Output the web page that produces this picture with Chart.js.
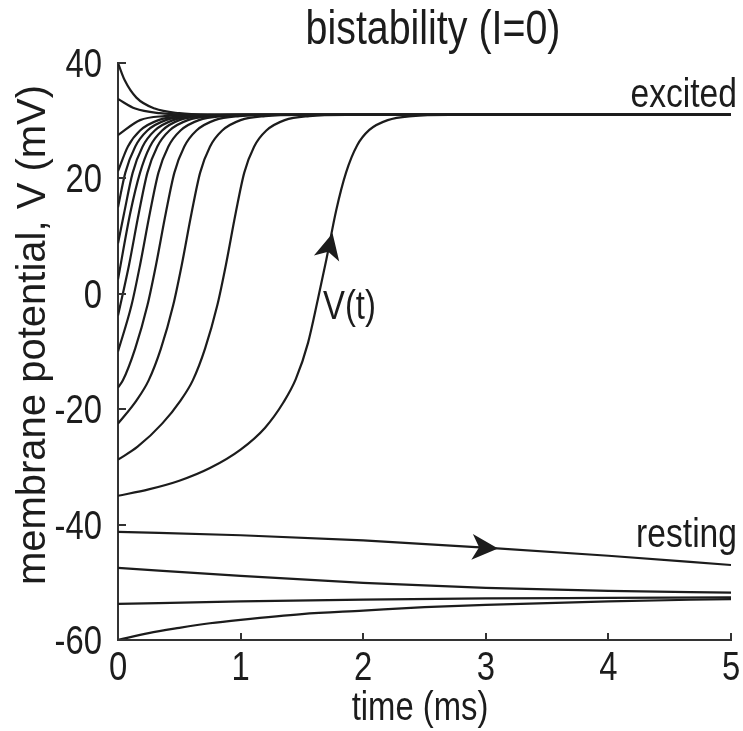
<!DOCTYPE html>
<html>
<head>
<meta charset="utf-8">
<script src="https://cdn.jsdelivr.net/npm/chart.js@4.4.1/dist/chart.umd.min.js"></script>
<style>
  html, body { margin: 0; padding: 0; background: #fff; }
</style>
</head>
<body>
<canvas id="myChart" width="743" height="731"></canvas>
<script>
// trajectories V(t), [time ms, V mV]
const v40  = [[0,40],[0.055,37],[0.15,34],[0.3,32.1],[0.5,31.3],[0.75,31.05],[1.2,31],[5,31]];
const v34  = [[0,33.75],[0.14,32.1],[0.34,31.3],[0.59,31.05],[1.04,31],[5,31]];
const v28  = [[0,27.5],[0.18,30.1],[0.38,30.8],[0.68,31],[5,31]];
const v21  = [[0,21.25],[0.08,25.5],[0.18,28.3],[0.33,30.1],[0.53,30.8],[0.83,31],[5,31]];
const v15  = [[0,15],[0.06,21],[0.14,25.5],[0.24,28.3],[0.39,30.1],[0.59,30.8],[0.89,31],[5,31]];
const v9   = [[0,8.75],[0.05,14],[0.12,21],[0.2,25.5],[0.3,28.3],[0.45,30.1],[0.65,30.8],[0.95,31],[5,31]];
const v3   = [[0,2.5],[0.1,14],[0.18,21],[0.26,25.5],[0.36,28.3],[0.5,30.1],[0.7,30.8],[1.0,31],[5,31]];
const vm4  = [[0,-3.75],[0.09,5],[0.17,14],[0.24,21],[0.32,25.5],[0.42,28.3],[0.57,30.1],[0.77,30.8],[1.07,31],[5,31]];
const vm10 = [[0,-10],[0.11,-2],[0.18,5],[0.26,14],[0.33,21],[0.41,25.5],[0.51,28.3],[0.66,30.1],[0.86,30.8],[1.16,31],[5,31]];
const vm16 = [[0,-16.25],[0.04,-15],[0.14,-9.5],[0.24,-2],[0.31,5],[0.39,14],[0.46,21],[0.54,25.5],[0.64,28.3],[0.79,30.1],[0.99,30.8],[1.29,31],[5,31]];
const vm23 = [[0,-22.5],[0.15,-18.5],[0.25,-15],[0.35,-9.5],[0.45,-2],[0.52,5],[0.6,14],[0.67,21],[0.75,25.5],[0.85,28.3],[1.0,30.1],[1.2,30.8],[1.5,31],[5,31]];
const vm29 = [[0,-28.75],[0.16,-26.5],[0.36,-22.5],[0.51,-18.5],[0.61,-15],[0.71,-9.5],[0.81,-2],[0.88,5],[0.96,14],[1.03,21],[1.11,25.5],[1.21,28.3],[1.36,30.1],[1.56,30.8],[1.86,31],[5,31]];
const vm35 = [[0,-35],[0.25,-33.9],[0.5,-32.4],[0.75,-30.2],[1.0,-27],[1.2,-23.2],[1.35,-18.8],[1.45,-14.8],[1.55,-8.5],[1.63,-1],[1.7,6],[1.78,14.5],[1.86,21],[1.95,25.7],[2.05,28.4],[2.2,30.1],[2.4,30.8],[2.7,31],[5,31]];
const vm41 = [[0,-41.25],[1,-41.85],[2,-42.75],[3,-44],[4,-45.4],[5,-47]];
const vm48 = [[0,-47.5],[1,-48.9],[2,-50.1],[3,-50.95],[4,-51.5],[5,-51.8]];
const vm54 = [[0,-53.75],[1,-53.3],[2,-53],[3,-52.8],[4,-52.7],[5,-52.6]];
const vm60 = [[0,-60],[0.25,-58.8],[0.5,-57.9],[0.75,-57.1],[1,-56.5],[1.5,-55.5],[2,-54.9],[2.5,-54.3],[3,-53.9],[4,-53.3],[5,-52.9]];

const trajectories = [v40, v34, v28, v21, v15, v9, v3, vm4, vm10, vm16, vm23, vm29, vm35, vm41, vm48, vm54, vm60];

const xTicks = [0, 1, 2, 3, 4, 5];
const yTicks = [-60, -40, -20, 0, 20, 40];

// arrowheads: [tip t, tip V, back t, back V]
const arrowUp = [1.75, 10.5, 1.7, 6];
const arrowRight = [3.1, -44.13, 2.6, -43.5];

const sans = '"Liberation Sans", Arial, Helvetica, sans-serif';
const squeeze = 0.82;   // the figure's lettering is narrow
const inkColor = '#1c1c1c';
const axisColor = '#333';

// narrow horizontal text
const putText = (ctx, str, px, py, size, align) => {
  ctx.save();
  ctx.translate(px, py);
  ctx.scale(squeeze, 1);
  ctx.font = size + 'px ' + sans;
  ctx.textAlign = align;
  ctx.textBaseline = 'alphabetic';
  ctx.fillText(str, 0, 0);
  ctx.restore();
};

const extras = {
  id: 'extras',
  afterDraw(chart) {
    const {ctx, chartArea} = chart;
    const x = chart.scales.x, y = chart.scales.y;
    ctx.save();

    // ticks pointing inward
    ctx.strokeStyle = axisColor;
    ctx.lineWidth = 2;
    x.ticks.forEach(t => {
      const px = Math.round(x.getPixelForValue(t.value));
      ctx.beginPath();
      ctx.moveTo(px, chartArea.bottom);
      ctx.lineTo(px, chartArea.bottom - 7);
      ctx.stroke();
    });
    y.ticks.forEach(t => {
      const py = Math.round(y.getPixelForValue(t.value));
      ctx.beginPath();
      ctx.moveTo(chartArea.left, py);
      ctx.lineTo(chartArea.left + 8, py);
      ctx.stroke();
    });

    // tick labels
    ctx.fillStyle = inkColor;
    x.ticks.forEach(t => {
      putText(ctx, String(t.value), x.getPixelForValue(t.value), chartArea.bottom + 40, 40, 'center');
    });
    y.ticks.forEach(t => {
      putText(ctx, String(t.value), chartArea.left - 16, y.getPixelForValue(t.value) + 14, 40, 'right');
    });

    // arrowheads
    const drawArrow = (a) => {
      const tx = x.getPixelForValue(a[0]), ty = y.getPixelForValue(a[1]);
      const bx = x.getPixelForValue(a[2]), by = y.getPixelForValue(a[3]);
      const ang = Math.atan2(ty - by, tx - bx);
      ctx.save();
      ctx.translate(tx, ty);
      ctx.rotate(ang);
      ctx.fillStyle = inkColor;
      ctx.beginPath();
      ctx.moveTo(0, 0);
      ctx.lineTo(-26, -13);
      ctx.lineTo(-19, 0);
      ctx.lineTo(-26, 13);
      ctx.closePath();
      ctx.fill();
      ctx.restore();
    };
    drawArrow(arrowUp);
    drawArrow(arrowRight);

    // titles and labels
    putText(ctx, 'bistability (I=0)', 433, 44, 48, 'center');
    putText(ctx, 'time (ms)', 420, 720, 40, 'center');
    putText(ctx, 'excited', 737, 107, 41, 'right');
    putText(ctx, 'resting', 737, 547, 41, 'right');
    putText(ctx, 'V(t)', 323, 319, 40, 'left');

    // y axis title, rotated
    ctx.save();
    ctx.translate(45, 335);
    ctx.rotate(-Math.PI / 2);
    ctx.font = '40px ' + sans;
    ctx.textAlign = 'center';
    ctx.textBaseline = 'alphabetic';
    ctx.fillText('membrane potential, V (mV)', 0, 0);
    ctx.restore();

    ctx.restore();
  }
};

const datasets = trajectories.map(tr => ({
  data: tr.map(p => ({x: p[0], y: p[1]})),
  showLine: true,
  borderColor: inkColor,
  borderWidth: 2.2,
  pointRadius: 0,
  fill: false,
  cubicInterpolationMode: 'monotone'
}));

const ctx = document.getElementById('myChart');
new Chart(ctx, {
  type: 'scatter',
  data: { datasets },
  options: {
    responsive: false,
    animation: false,
    events: [],
    layout: { padding: { top: 63, right: 12, left: 0, bottom: 0 } },
    plugins: {
      legend: { display: false },
      tooltip: { enabled: false },
      title: { display: false }
    },
    scales: {
      x: {
        type: 'linear',
        min: 0, max: 5,
        afterBuildTicks: s => { s.ticks = xTicks.map(v => ({value: v})); },
        afterFit: s => { s.height = 91; },
        ticks: { display: false },
        grid: { drawOnChartArea: false, drawTicks: false },
        border: { display: true, color: axisColor, width: 2 }
      },
      y: {
        type: 'linear',
        min: -60, max: 40,
        afterBuildTicks: s => { s.ticks = yTicks.map(v => ({value: v})); },
        afterFit: s => { s.width = 118; },
        ticks: { display: false },
        grid: { drawOnChartArea: false, drawTicks: false },
        border: { display: true, color: axisColor, width: 2 }
      }
    }
  },
  plugins: [extras]
});
</script>
</body>
</html>
